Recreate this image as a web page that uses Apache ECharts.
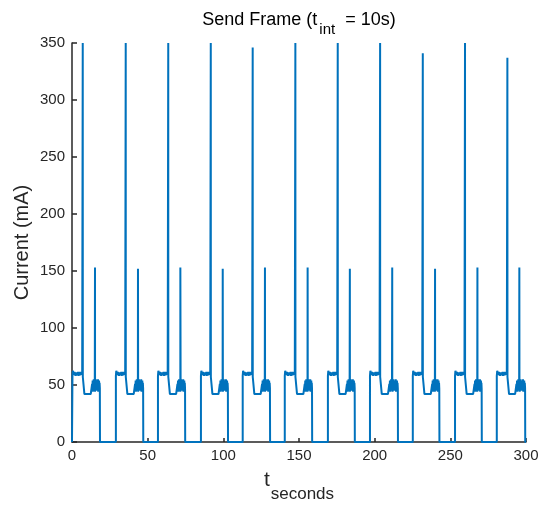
<!DOCTYPE html>
<html>
<head>
<meta charset="utf-8">
<title>Send Frame</title>
<script src="https://cdn.jsdelivr.net/npm/echarts@6/dist/echarts.min.js"></script>
<style>
  html, body { margin: 0; padding: 0; background: #fff; }
  #chart { width: 550px; height: 506px; }
</style>
</head>
<body>
<div id="chart"></div>
<script>
// one burst per transmission, times in seconds, current in mA
var riseT      = [0.3, 29.0, 56.8, 85.2, 112.8, 140.6, 169.1, 196.9, 225.2, 253.1, 280.7];
var spikeT     = [7.1, 35.5, 63.6, 91.7, 119.4, 147.6, 175.6, 203.6, 231.8, 259.7, 287.7];
var spikePeak  = [350, 350, 350, 350, 346, 350, 350, 350, 341, 350, 337];
var spike2T    = [15.2, 43.6, 71.6, 99.6, 127.5, 155.7, 183.6, 211.6, 239.9, 267.9, 295.6];
var spike2Peak = [153, 152, 153, 152, 153, 153, 152, 153, 152, 153, 153];
var fallT      = [18.5, 47.1, 74.8, 103.1, 130.9, 158.7, 186.9, 215.4, 242.8, 270.8, 299.5];

var plateauLevel = [58, 62.5, 63.5, 62, 59, 61.5, 58.5, 60.5, 58, 61, 59.5, 58.5, 61, 59, 61.5, 58, 60.5, 61, 58.5, 61.5, 59, 60.5, 58, 61, 59, 60];
var lowLevel     = [42, 42.5, 41.5, 42, 43, 41.5, 42, 42.5, 41, 42, 42.5, 42];
var burstLevel   = [51, 46, 54, 44, 53, 47, 55, 45, 52, 48, 54, 44, 53, 46, 55, 49, 53, 45, 54, 47, 52, 46, 55, 44, 53, 48, 54, 46, 52, 47];

var xTicks = [0, 50, 100, 150, 200, 250, 300];
var yTicks = [0, 50, 100, 150, 200, 250, 300, 350];

var points = [[0, 0]];
for (var i = 0; i < riseT.length; i++) {
  var r = riseT[i], s = spikeT[i], s2 = spike2T[i], f = fallT[i];
  points.push([r, 0]);
  // plateau ~60 mA
  var n = plateauLevel.length;
  for (var k = 0; k < n; k++) {
    points.push([r + (s - 0.1 - r) * k / (n - 1), plateauLevel[k]]);
  }
  // tall spike
  points.push([s, spikePeak[i]]);
  points.push([s + 0.05, 57]);
  points.push([s + 0.9, 56]);
  points.push([s + 1.1, 42]);
  // low level ~42 mA
  var b = s2 - 1.9;
  n = lowLevel.length;
  for (k = 0; k < n; k++) {
    points.push([s + 1.1 + (b - s - 1.1) * k / (n - 1), lowLevel[k]]);
  }
  // noisy band with the second spike
  n = burstLevel.length;
  var done = false;
  for (k = 0; k < n; k++) {
    var t = b + (f - 0.1 - b) * k / (n - 1);
    if (!done && t >= s2) {
      points.push([s2, spike2Peak[i]]);
      done = true;
    }
    points.push([t, burstLevel[k]]);
  }
  points.push([f, 0]);
}
points.push([300, 0]);

var chart = echarts.init(document.getElementById('chart'));
var font = 'Liberation Sans, Arial, Helvetica, sans-serif';

chart.setOption({
  animation: false,
  title: {
    text: '{m|Send Frame (t}{s|int}{m| = 10s)}',
    left: 299,
    top: 11,
    padding: 0,
    textAlign: 'center',
    textStyle: {
      fontWeight: 'normal',
      rich: {
        m: { fontSize: 18, fontWeight: 'normal', fontFamily: font, color: '#000', padding: [0, 0, 8, 0] },
        s: { fontSize: 15, fontWeight: 'normal', fontFamily: font, color: '#000', padding: [11, 5, 0, 2] }
      }
    }
  },
  grid: { left: 72, right: 24, top: 43, bottom: 64, outerBoundsMode: 'none', containLabel: false },
  xAxis: {
    type: 'value',
    min: xTicks[0],
    max: xTicks[xTicks.length - 1],
    interval: 50,
    name: '{m|t}{s|seconds}',
    nameLocation: 'middle',
    nameGap: 28,
    nameMoveOverlap: false,
    nameTextStyle: {
      rich: {
        m: { fontSize: 21, fontFamily: font, color: '#262626', padding: [0, 1, 12, 0] },
        s: { fontSize: 17, fontFamily: font, color: '#262626', padding: [15, 0, 0, 0] }
      }
    },
    axisLine: { lineStyle: { color: '#262626', width: 1.5 } },
    axisTick: { inside: true, length: 4, lineStyle: { color: '#262626', width: 1.5 } },
    axisLabel: { margin: 6, fontSize: 15, fontFamily: font, color: '#262626' },
    splitLine: { show: false }
  },
  yAxis: {
    type: 'value',
    min: yTicks[0],
    max: yTicks[yTicks.length - 1],
    interval: 50,
    name: 'Current (mA)',
    nameLocation: 'middle',
    nameGap: 40,
    nameMoveOverlap: false,
    nameTextStyle: { fontSize: 20, fontFamily: font, color: '#262626' },
    axisLine: { show: true, lineStyle: { color: '#262626', width: 1.5 } },
    axisTick: { show: true, inside: true, length: 5, lineStyle: { color: '#262626', width: 1.5 } },
    axisLabel: { margin: 7, fontSize: 15, fontFamily: font, color: '#262626' },
    splitLine: { show: false }
  },
  series: [{
    type: 'line',
    data: points,
    showSymbol: false,
    symbol: 'none',
    clip: true,
    lineStyle: { color: '#0072BD', width: 2 },
    itemStyle: { color: '#0072BD' },
    z: 3
  }]
});
</script>
</body>
</html>
